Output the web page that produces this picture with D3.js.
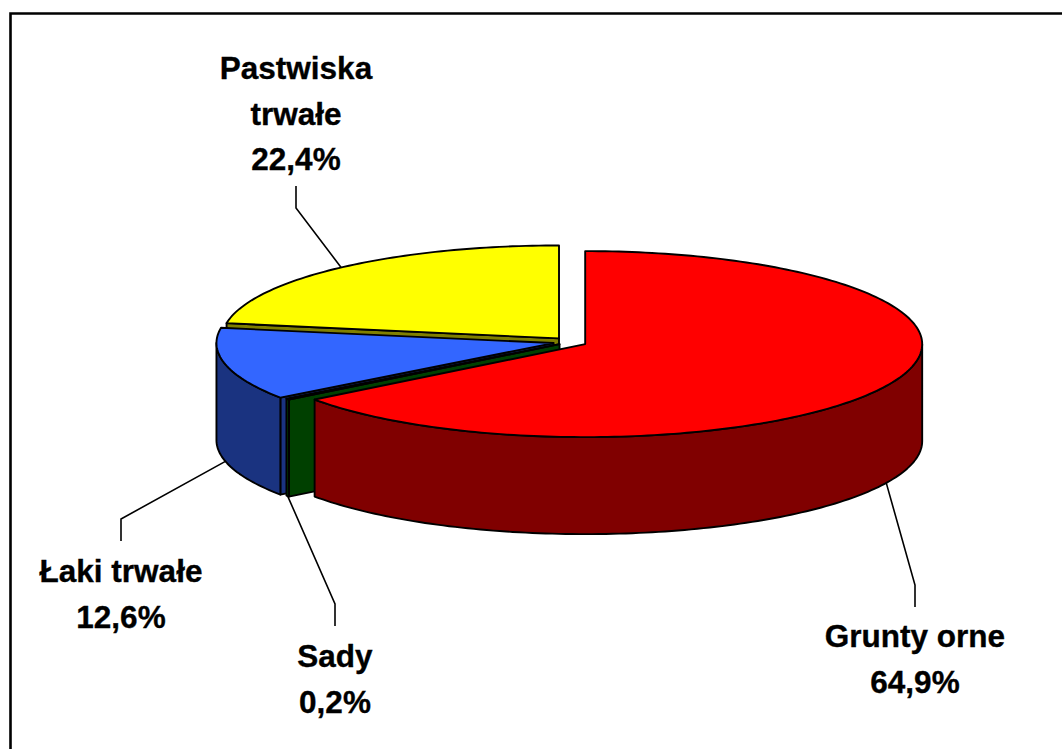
<!DOCTYPE html>
<html>
<head>
<meta charset="utf-8">
<script src="https://cdnjs.cloudflare.com/ajax/libs/d3/7.8.5/d3.min.js"></script>
<style>
  html, body { margin: 0; padding: 0; background: #fff; }
  svg { display: block; }
  text { font-family: "Liberation Sans", Arial, sans-serif; font-weight: bold; font-size: 31.5px; fill: #000; stroke: #000; stroke-width: 0.35px; }
</style>
</head>
<body>
<div id="chart"></div>
<script>
const categories = ["Grunty orne", "Sady", "Łaki trwałe", "Pastwiska trwałe"];
const shares = [64.9, 0.2, 12.6, 22.4];
const topColors = ["#ff0000", "#008000", "#3366ff", "#ffff00"];
const wallColors = ["#800000", "#004000", "#1a3380", "#808000"];
const labelLines = [["Grunty orne", "64,9%"], ["Sady", "0,2%"], ["Łaki trwałe", "12,6%"], ["Pastwiska", "trwałe", "22,4%"]];

const width = 1062, height = 749;
const rx = 337, ry = 93, depth = 97;
const cx = 570, cy = 342;
const explode = [17, 13, 17, 17];

// where each label sits: elbow of the leader line, then the text block
const labelLayout = [
    {elbowY: 585, endY: 607, x: 915, baseline: 647},
    {elbowY: 604, endY: 626, x: 335, baseline: 667},
    {elbowY: 519, endY: 541, x: 121, baseline: 582},
    {elbowY: 208, endY: 186, x: 296, baseline: 79}
];
const lineHeight = 45.5;

const svg = d3.select("#chart").append("svg")
    .attr("width", width)
    .attr("height", height);

// frame, only left and top are in the picture
svg.append("path")
    .attr("d", d3.line()([[10.5, height], [10.5, 13.5], [width, 13.5]]))
    .attr("fill", "none")
    .attr("stroke", "#000")
    .attr("stroke-width", 2.6);

const slices = d3.pie().sort(null)(shares);

// a pie angle is measured clockwise from 12 o'clock
function project(s, a, drop) {
    const mid = (s.startAngle + s.endAngle) / 2;
    const ox = cx + explode[s.index] * Math.sin(mid);
    const oy = cy - explode[s.index] * (ry / rx) * Math.cos(mid);
    return {
        ox: ox, oy: oy,
        x: ox + rx * Math.sin(a),
        y: oy - ry * Math.cos(a) + (drop || 0)
    };
}

function arcPoints(s, a0, a1, drop) {
    const n = Math.max(2, Math.ceil(Math.abs(a1 - a0) / 0.02));
    return d3.range(n + 1).map(i => {
        const p = project(s, a0 + (a1 - a0) * i / n, drop);
        return [p.x, p.y];
    });
}

const line = d3.line();

// back to front, the red slice comes last
d3.range(slices.length).reverse().forEach(i => {
    const s = slices[i];
    const g = svg.append("g")
        .attr("stroke", "#000")
        .attr("stroke-width", 1.9)
        .attr("stroke-linejoin", "round");
    const o = project(s, 0);

    // radial wall facing the viewer
    const rim = project(s, s.startAngle);
    if (Math.cos(s.startAngle) < 0 || s.startAngle > Math.PI) {
        g.append("path")
            .attr("d", line([[o.ox, o.oy], [rim.x, rim.y], [rim.x, rim.y + depth], [o.ox, o.oy + depth]]) + "Z")
            .attr("fill", wallColors[i]);
    }

    // outer wall, only the part in the front half
    const a0 = Math.max(s.startAngle, Math.PI / 2);
    const a1 = Math.min(s.endAngle, 3 * Math.PI / 2);
    if (a1 > a0) {
        const pts = arcPoints(s, a0, a1, 0).concat(arcPoints(s, a1, a0, depth));
        g.append("path")
            .attr("d", line(pts) + "Z")
            .attr("fill", wallColors[i]);
    }

    // top face
    const top = [[o.ox, o.oy]].concat(arcPoints(s, s.startAngle, s.endAngle, 0));
    g.append("path")
        .attr("d", line(top) + "Z")
        .attr("fill", topColors[i]);
});

// leader lines and labels
slices.forEach((s, i) => {
    const mid = (s.startAngle + s.endAngle) / 2;
    const front = Math.cos(mid) < 0 || i === 2;
    const start = project(s, mid, front ? depth : 0);
    const l = labelLayout[i];
    svg.append("path")
        .attr("d", line([[start.x, start.y], [l.x, l.elbowY], [l.x, l.endY]]))
        .attr("fill", "none")
        .attr("stroke", "#000")
        .attr("stroke-width", 1.6);

    svg.append("text")
        .attr("text-anchor", "middle")
        .selectAll("tspan")
        .data(labelLines[i])
        .enter().append("tspan")
        .attr("x", l.x)
        .attr("y", (d, k) => l.baseline + k * lineHeight)
        .text(d => d);
});
</script>
</body>
</html>
